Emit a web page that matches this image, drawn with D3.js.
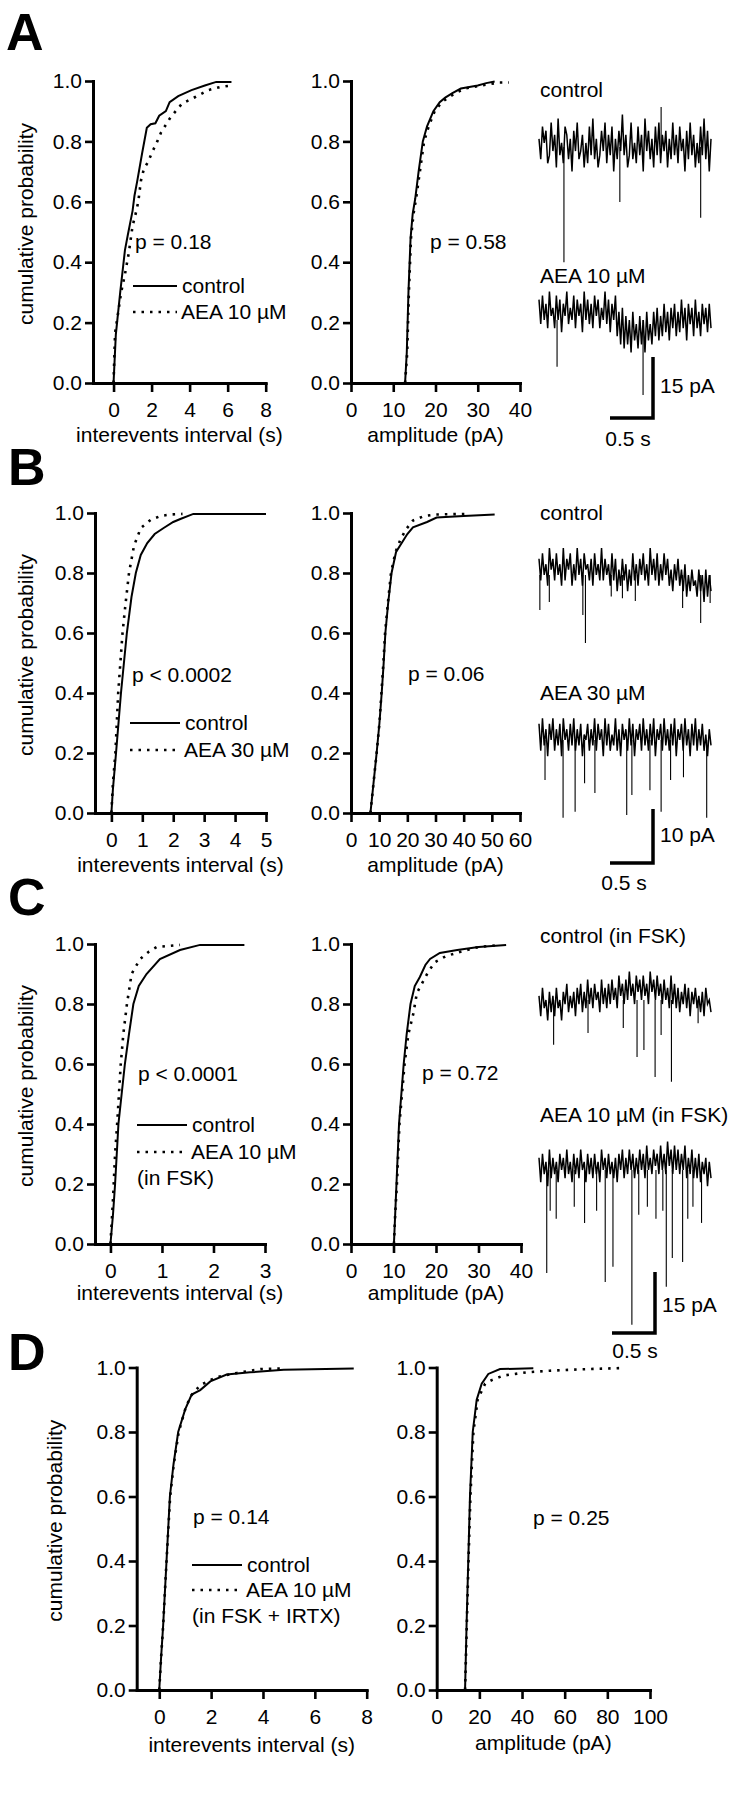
<!DOCTYPE html>
<html>
<head>
<meta charset="utf-8">
<script src="https://cdn.jsdelivr.net/npm/d3@7"></script>
<style>
  body { margin: 0; background: #fff; }
  svg text { font-family: "Liberation Sans", Arial, Helvetica, sans-serif; font-size: 21px; fill: #000; }
</style>
</head>
<body>
<svg id="fig" width="741" height="1800"></svg>
<script>
// Cumulative distributions: [value, probability]
const intA_ctl = [[0,0],[0.12,0.16],[0.35,0.30],[0.6,0.44],[0.75,0.49],[1.0,0.57],[1.1,0.62],[1.25,0.67],[1.5,0.76],[1.75,0.845],[1.95,0.857],[2.2,0.86],[2.4,0.885],[2.75,0.90],[2.95,0.93],[3.4,0.95],[4.1,0.97],[4.8,0.985],[5.4,0.997],[6.2,0.997]];
const intA_aea = [[0,0],[0.08,0.165],[0.4,0.3],[0.6,0.36],[0.8,0.43],[1.0,0.52],[1.2,0.57],[1.3,0.6],[1.44,0.67],[1.6,0.71],[1.8,0.73],[2.0,0.76],[2.3,0.8],[2.5,0.83],[3.0,0.88],[3.6,0.925],[4.3,0.947],[5.0,0.97],[5.6,0.98],[6.2,0.985]];
const ampA_ctl = [[12.8,0],[13.2,0.1],[13.6,0.3],[14.1,0.48],[14.6,0.56],[15.2,0.61],[16,0.7],[17,0.8],[18,0.85],[19.5,0.9],[21,0.93],[22.3,0.945],[24,0.96],[26,0.975],[28,0.98],[30,0.985],[32,0.993],[34,0.998]];
const ampA_aea = [[12.8,0],[13.3,0.1],[13.7,0.3],[14.2,0.48],[14.8,0.56],[15.4,0.61],[16.3,0.7],[17.3,0.8],[18.4,0.85],[19.8,0.9],[21.5,0.93],[23,0.945],[25,0.962],[27,0.975],[30,0.983],[33,0.99],[35,0.995],[37.4,0.995]];

const intB_ctl = [[0,0],[0.05,0.08],[0.15,0.2],[0.31,0.4],[0.5,0.6],[0.65,0.72],[0.79,0.8],[0.95,0.86],[1.16,0.9],[1.4,0.93],[1.69,0.95],[2.0,0.97],[2.23,0.98],[2.65,0.997],[5.0,0.997]];
const intB_aea = [[0,0],[0.05,0.1],[0.13,0.2],[0.22,0.4],[0.36,0.6],[0.46,0.7],[0.57,0.8],[0.73,0.89],[0.95,0.95],[1.27,0.977],[1.59,0.99],[1.9,0.995],[2.3,0.997]];
const ampB_ctl = [[6.9,0],[8,0.1],[9.1,0.2],[10.1,0.3],[10.9,0.4],[11.6,0.5],[12.2,0.6],[13.2,0.7],[14.4,0.8],[16,0.87],[18,0.9],[20,0.93],[22,0.952],[27,0.97],[30.4,0.985],[40,0.99],[51,0.995]];
const ampB_aea = [[6.9,0],[8,0.1],[9.1,0.2],[10.1,0.3],[10.8,0.4],[11.5,0.5],[12.1,0.6],[13.1,0.7],[14.2,0.8],[15.8,0.87],[17.5,0.91],[19.5,0.945],[22,0.975],[26,0.99],[30,0.995],[41,0.997]];

const intC_ctl = [[0,0],[0.05,0.1],[0.09,0.2],[0.155,0.4],[0.28,0.6],[0.36,0.7],[0.445,0.8],[0.55,0.86],[0.7,0.9],[0.96,0.95],[1.35,0.98],[1.74,0.997],[2.6,0.997]];
const intC_aea = [[0,0],[0.05,0.15],[0.09,0.3],[0.13,0.4],[0.2,0.6],[0.25,0.7],[0.32,0.8],[0.41,0.9],[0.575,0.95],[0.75,0.975],[0.9,0.99],[1.35,0.997]];
const ampC_ctl = [[10.1,0],[10.4,0.1],[10.7,0.2],[11.3,0.4],[12.4,0.6],[13.1,0.7],[14.0,0.8],[15,0.86],[16.2,0.89],[17.5,0.93],[18.6,0.95],[20.9,0.97],[25,0.98],[30,0.99],[36.5,0.997]];
const ampC_aea = [[10.1,0],[10.4,0.1],[10.8,0.2],[11.4,0.4],[12.6,0.6],[13.5,0.7],[14.7,0.77],[15.5,0.837],[18.2,0.908],[19.8,0.94],[22.4,0.96],[26,0.975],[30,0.99],[34,0.995]];

const intD_ctl = [[0,0],[0.07,0.1],[0.15,0.2],[0.28,0.4],[0.41,0.6],[0.55,0.7],[0.73,0.8],[1.0,0.87],[1.25,0.916],[1.58,0.93],[1.97,0.957],[2.6,0.978],[3.5,0.985],[4.8,0.993],[7.5,0.997]];
const intD_aea = [[0,0],[0.07,0.1],[0.15,0.2],[0.28,0.4],[0.42,0.6],[0.56,0.7],[0.75,0.8],[1.0,0.87],[1.2,0.91],[1.58,0.945],[2.2,0.97],[3.0,0.983],[3.9,0.995],[4.8,0.997]];
const ampD_ctl = [[13.3,0],[14,0.2],[14.8,0.4],[15.6,0.6],[16.9,0.8],[18.75,0.9],[21.1,0.95],[24.2,0.98],[29.7,0.995],[45.3,0.998]];
const ampD_aea = [[13.3,0],[14.1,0.2],[14.9,0.4],[15.8,0.6],[17.2,0.8],[19.2,0.9],[22.7,0.95],[25.8,0.961],[31.25,0.975],[42.2,0.985],[53.1,0.99],[62.5,0.993],[75,0.996],[86,0.998]];

// tick labels
const probTicks = [0, 0.2, 0.4, 0.6, 0.8, 1.0];
const ticksIntA = [0, 2, 4, 6, 8];
const ticksAmpA = [0, 10, 20, 30, 40];
const ticksIntB = [0, 1, 2, 3, 4, 5];
const ticksAmpB = [0, 10, 20, 30, 40, 50, 60];
const ticksIntC = [0, 1, 2, 3];
const ticksAmpC = [0, 10, 20, 30, 40];
const ticksIntD = [0, 2, 4, 6, 8];
const ticksAmpD = [0, 20, 40, 60, 80, 100];

// raw current traces (pA), one sample every 2/99 s
const traceA_ctl = [2,-3,5,1,4,-4,-2,6,-1,3, -5,7,-2,1,-4,5,3,-3,2,-6, 4,-1,6,-3,-1,3,-5,1,-4,5, -2,7,-3,2,-5,-2,4,-1,6,-4, 3,-2,5,-6,2,-3,4,-1,8,-2,
  3,-5,-2,6,-3,1,-4,5,-2,3, -6,7,-1,4,-3,2,-5,5,-2,6, -4,3,-1,4,-5,2,-3,6,-2,3, -4,5,-1,2,-6,4,-3,6,-2,3, -5,1,-4,5,-2,7,-3,4,-6,2];
const traceA_aea = [5,-1,6,0,4,-2,7,1,3,-2, 6,0,5,-3,4,1,7,-1,3,0, 6,-2,5,1,4,-3,7,0,5,-1, 4,-2,6,1,5,-2,3,0,7,-1, 5,-3,4,0,6,-4,2,-6,3,-7,
  1,-6,0,-8,2,-5,-1,-7,1,-6, 0,-8,2,-5,-1,-6,2,-4,3,-5, 1,-4,4,-3,2,-5,3,-2,4,-4, 2,-3,5,-2,3,-5,4,-1,3,-4, 5,-2,2,-4,4,-1,3,-3,4,-2];
const traceB_ctl = [3,-1,4,0,2,-2,5,1,3,-1, 4,0,2,-2,5,-1,3,1,4,-2, 2,-1,5,0,3,-2,4,1,2,-1, 3,-2,4,0,2,-1,5,-1,3,0, 2,-2,4,-1,3,-3,1,-2,3,-1,
  2,-3,1,-2,4,-1,2,-2,3,0, 4,-1,2,-2,5,0,3,-1,4,-2, 2,-1,4,0,3,-2,1,-3,2,-1, 3,-2,1,-3,2,-4,0,-3,1,-2, -1,-4,1,-3,0,-5,1,-4,0,-3];
const traceB_aea = [3,-2,4,-1,2,-3,3,0,4,-2, 2,-1,3,-3,4,0,2,-2,3,-1, 4,-2,2,-1,3,-3,1,0,3,-2, 2,-1,4,-2,3,0,2,-3,4,-1, 3,-2,1,-1,4,-2,2,-3,3,0,
  2,-2,4,-1,3,-3,2,0,3,-2, 4,-1,2,-2,3,-1,4,-3,2,0, 3,-2,4,-1,2,-2,3,-1,4,-3, 2,0,3,-2,4,-1,2,-3,3,-1, 4,-2,2,-1,3,-2,1,-3,2,-1];
const traceC_ctl = [1,-4,3,-2,0,-5,2,-3,1,-4, 3,-2,0,-5,2,-1,4,-3,1,-2, 2,-4,3,-1,4,-3,2,-2,5,-1, 3,-2,4,0,2,-3,5,-1,3,-2, 4,-1,5,0,3,-2,6,1,4,-1,
  5,0,7,1,4,-1,6,2,5,0, 6,1,4,-1,7,2,5,0,6,1, 4,-1,5,0,3,-2,6,-1,4,-2, 3,-3,2,-1,4,-2,3,-4,2,-1, 3,-2,1,-3,2,-4,3,-1,0,-3];
const traceC_aea = [3,-3,4,-1,2,-4,5,-2,3,-1, 2,-3,4,0,3,-2,5,-1,2,-3, 4,-1,3,-2,5,0,2,-3,4,-1, 3,-2,4,-1,2,-3,5,0,3,-2, 4,-1,2,-2,3,-3,4,0,5,-2,
  3,-1,5,0,4,-2,3,-1,5,0, 4,-2,6,0,3,-1,5,1,4,-1, 6,0,4,-1,7,1,5,-1,6,0, 5,-1,4,0,6,-2,3,-1,5,-2, 3,-2,4,-3,2,-1,3,-4,2,-2];

// synaptic events: [time (s), peak (pA)]
const eventsA_ctl = [[0.29,-28.3],[0.94,-13.5],[1.42,9.8],[1.88,-17.4]];
const eventsA_aea = [[0.21,-11.5],[1.21,-18.4]];
const eventsB_ctl = [[0.01,-6.5],[0.12,-5],[0.51,-7.4],[0.54,-12.6],[0.84,-4],[0.97,-4.3],[1.12,-4.8],[1.67,-6.1],[1.88,-8.9],[1.99,-5.2]];
const eventsB_aea = [[0.07,-7.4],[0.28,-14.4],[0.42,-13.3],[0.53,-8],[0.65,-9.8],[1.02,-13.9],[1.08,-10.2],[1.29,-9.3],[1.42,-13.3],[1.53,-7.4],[1.68,-6.9],[1.95,-14.4]];
const eventsC_ctl = [[0.17,-11],[0.57,-8.1],[0.98,-6.9],[1.14,-14],[1.22,-12.3],[1.35,-18.9],[1.42,-8.6],[1.54,-20.1],[1.85,-5.7]];
const eventsC_aea = [[0.09,-25.3],[0.13,-10],[0.2,-12],[0.41,-9],[0.53,-13],[0.67,-10],[0.77,-27.5],[0.86,-23.8],[1.08,-38],[1.16,-11],[1.26,-9],[1.36,-12],[1.44,-10],[1.48,-28.7],[1.55,-21.6],[1.67,-22.6],[1.73,-12],[1.79,-9],[1.89,-13]];

const pTexts = ["p = 0.18", "p = 0.58", "p < 0.0002", "p = 0.06", "p < 0.0001", "p = 0.72", "p = 0.14", "p = 0.25"];

const svg = d3.select("#fig");
const FONT = '"Liberation Sans", Arial, Helvetica, sans-serif';

function label(x, y, txt, anchor) {
    return svg.append("text").attr("x", x).attr("y", y)
        .attr("text-anchor", anchor || "start").text(txt);
}

function styleAxis(g) {
    g.attr("font-size", 21).attr("font-family", FONT);
    g.select(".domain").attr("stroke-width", 3).attr("stroke-linecap", "square");
    g.selectAll(".tick line").attr("stroke-width", 2.6);
    g.selectAll(".tick text").attr("fill", "#000");
}

function drawCdf(p) {
    const x = d3.scaleLinear().domain(p.xDomain).range([p.left, p.right]);
    const y = d3.scaleLinear().domain([0, 1]).range([p.bottom, p.top]);

    const gx = svg.append("g").attr("transform", `translate(0,${p.bottom})`)
        .call(d3.axisBottom(x).tickValues(p.xTicks).tickSize(9).tickSizeOuter(0)
            .tickPadding(10).tickFormat(d3.format("d")));
    styleAxis(gx);
    const gy = svg.append("g").attr("transform", `translate(${p.left},0)`)
        .call(d3.axisLeft(y).tickValues(probTicks).tickSize(8).tickSizeOuter(0)
            .tickPadding(3).tickFormat(d3.format(".1f")));
    styleAxis(gy);

    const line = d3.line().x(d => x(d[0])).y(d => y(d[1]));
    svg.append("path").datum(p.aea).attr("d", line)
        .attr("fill", "none").attr("stroke", "#000").attr("stroke-width", 2.6)
        .attr("stroke-dasharray", "2.5,6");
    svg.append("path").datum(p.ctl).attr("d", line)
        .attr("fill", "none").attr("stroke", "#000").attr("stroke-width", 2);

    label((p.left + p.right) / 2, p.bottom + p.titleGap, p.xTitle, "middle");
    if (p.yLabelX) {
        svg.append("text")
            .attr("transform", `translate(${p.yLabelX},${(p.top + p.bottom) / 2 - 8}) rotate(-90)`)
            .attr("text-anchor", "middle").text("cumulative probability");
    }
    label(p.pX, p.pY, p.pText);
}

function drawLegend(l) {
    svg.append("line").attr("x1", l.x0).attr("x2", l.x1).attr("y1", l.y1).attr("y2", l.y1)
        .attr("stroke", "#000").attr("stroke-width", 2);
    svg.append("line").attr("x1", l.x0).attr("x2", l.x1).attr("y1", l.y2).attr("y2", l.y2)
        .attr("stroke", "#000").attr("stroke-width", 2.6).attr("stroke-dasharray", "2.5,6");
    label(l.x1 + 5, l.y1 + 7, "control");
    label(l.x1 + 4, l.y2 + 7, l.drug);
    if (l.extra) label(l.x0, l.y2 + 33, l.extra);
}

// trace x scale: 2 s sweep
const tScale = d3.scaleLinear().domain([0, 2]).range([539, 711]);
const dt = 2 / 99;

function drawTrace(values, events, center, pxPerPA) {
    const y = d3.scaleLinear().domain([0, 1]).range([center, center - pxPerPA]);
    const line = d3.line().x((d, i) => tScale(i * dt)).y(d => y(d));
    svg.append("path").datum(values).attr("d", line)
        .attr("fill", "none").attr("stroke", "#000").attr("stroke-width", 1.5)
        .attr("stroke-linejoin", "miter");
    svg.selectAll(null).data(events).enter().append("line")
        .attr("x1", d => tScale(d[0])).attr("x2", d => tScale(d[0]))
        .attr("y1", y(0)).attr("y2", d => y(d[1]))
        .attr("stroke", "#000").attr("stroke-width", 1.1);
    return y;
}

function drawScaleBar(cornerX, cornerY, pxPerPA, pA, pAText, pAy, sX, sY) {
    const w = tScale(0.5) - tScale(0);
    const h = pxPerPA * pA;
    svg.append("path")
        .attr("d", `M${cornerX - w},${cornerY}H${cornerX}V${cornerY - h}`)
        .attr("fill", "none").attr("stroke", "#000").attr("stroke-width", 3.5);
    label(cornerX + 7, pAy, pAText);
    label(sX, sY, "0.5 s", "middle");
}

// panel letters
[["A", 6, 50], ["B", 8, 485], ["C", 8, 915], ["D", 8, 1370]].forEach(d => {
    svg.append("text").attr("x", d[1]).attr("y", d[2]).style("font-size", "52px")
        .style("font-weight", "bold").text(d[0]);
});

// panel A
drawCdf({left: 93, right: 265.7, top: 81, bottom: 383, xDomain: [-1.08, 8], xTicks: ticksIntA,
    ctl: intA_ctl, aea: intA_aea, xTitle: "interevents interval (s)", titleGap: 59, yLabelX: 33,
    pX: 135, pY: 249, pText: pTexts[0]});
drawCdf({left: 351, right: 520, top: 81, bottom: 383, xDomain: [0, 40], xTicks: ticksAmpA,
    ctl: ampA_ctl, aea: ampA_aea, xTitle: "amplitude (pA)", titleGap: 59,
    pX: 430, pY: 249, pText: pTexts[1]});
drawLegend({x0: 133, x1: 177, y1: 286, y2: 312, drug: "AEA 10 µM"});

// panel B
drawCdf({left: 95, right: 266, top: 513, bottom: 813, xDomain: [-0.53, 5], xTicks: ticksIntB,
    ctl: intB_ctl, aea: intB_aea, xTitle: "interevents interval (s)", titleGap: 59, yLabelX: 33,
    pX: 132, pY: 682, pText: pTexts[2]});
drawCdf({left: 351, right: 520, top: 513, bottom: 813, xDomain: [0, 60], xTicks: ticksAmpB,
    ctl: ampB_ctl, aea: ampB_aea, xTitle: "amplitude (pA)", titleGap: 59,
    pX: 408, pY: 681, pText: pTexts[3]});
drawLegend({x0: 130, x1: 180, y1: 723, y2: 750, drug: "AEA 30 µM"});

// panel C
drawCdf({left: 95, right: 265, top: 944, bottom: 1244, xDomain: [-0.3, 3], xTicks: ticksIntC,
    ctl: intC_ctl, aea: intC_aea, xTitle: "interevents interval (s)", titleGap: 56, yLabelX: 33,
    pX: 138, pY: 1081, pText: pTexts[4]});
drawCdf({left: 351, right: 521, top: 944, bottom: 1244, xDomain: [0, 40], xTicks: ticksAmpC,
    ctl: ampC_ctl, aea: ampC_aea, xTitle: "amplitude (pA)", titleGap: 56,
    pX: 422, pY: 1080, pText: pTexts[5]});
drawLegend({x0: 137, x1: 187, y1: 1125, y2: 1152, drug: "AEA 10 µM", extra: "(in FSK)"});

// panel D
drawCdf({left: 136.7, right: 366.7, top: 1367.5, bottom: 1690, xDomain: [-0.87, 8], xTicks: ticksIntD,
    ctl: intD_ctl, aea: intD_aea, xTitle: "interevents interval (s)", titleGap: 62, yLabelX: 62,
    pX: 193, pY: 1524, pText: pTexts[6]});
drawCdf({left: 436.7, right: 650, top: 1367.5, bottom: 1690, xDomain: [0, 100], xTicks: ticksAmpD,
    ctl: ampD_ctl, aea: ampD_aea, xTitle: "amplitude (pA)", titleGap: 60,
    pX: 533, pY: 1525, pText: pTexts[7]});
drawLegend({x0: 192, x1: 242, y1: 1565, y2: 1590, drug: "AEA 10 µM", extra: "(in FSK + IRTX)"});

// example traces
label(540, 97, "control");
drawTrace(traceA_ctl, eventsA_ctl, 147, 4.07);
label(540, 283, "AEA 10 µM");
drawTrace(traceA_aea, eventsA_aea, 320, 4.07);
drawScaleBar(653, 418, 4.07, 15, "15 pA", 393, 628, 446);

label(540, 520, "control");
drawTrace(traceB_ctl, eventsB_ctl, 575, 5.4);
label(540, 700, "AEA 30 µM");
drawTrace(traceB_aea, eventsB_aea, 740, 5.4);
drawScaleBar(653, 863, 5.4, 10, "10 pA", 842, 624, 890);

label(540, 943, "control (in FSK)");
drawTrace(traceC_ctl, eventsC_ctl, 1000, 4.07);
label(540, 1122, "AEA 10 µM (in FSK)");
drawTrace(traceC_aea, eventsC_aea, 1170, 4.07);
drawScaleBar(655, 1333, 4.07, 15, "15 pA", 1312, 635, 1358);
</script>
</body>
</html>
